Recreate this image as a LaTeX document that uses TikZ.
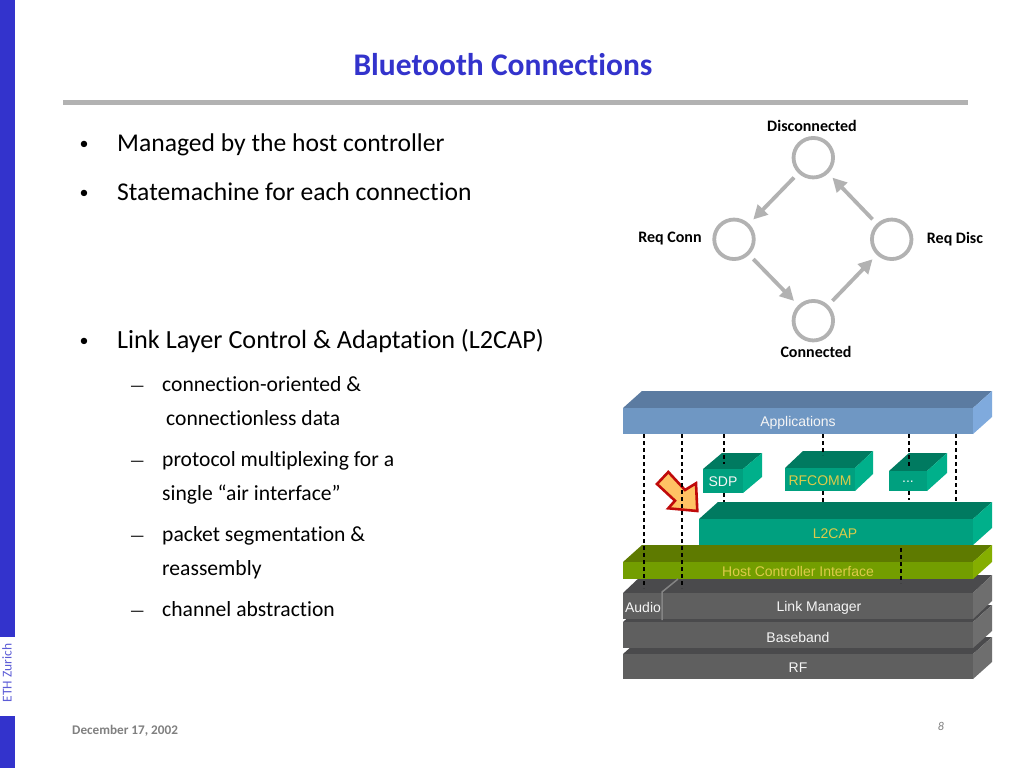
\documentclass[tikz,border=0pt]{standalone}
\usepackage{fontspec}
\setmainfont[Ligatures=NoCommon]{Carlito}
\newfontfamily\stackfont{Liberation Sans}
\usetikzlibrary{arrows.meta}
\definecolor{slide_blue}{HTML}{3333CC}
\definecolor{state_gray}{HTML}{B2B2B2}
\definecolor{blue_front}{HTML}{6F97C3}
\definecolor{blue_top}{HTML}{5B7BA1}
\definecolor{blue_side}{HTML}{7FAADD}
\definecolor{green_front}{HTML}{00A07F}
\definecolor{green_top}{HTML}{007A60}
\definecolor{green_side}{HTML}{00B08B}
\definecolor{olive_front}{HTML}{739E00}
\definecolor{olive_top}{HTML}{5E7A00}
\definecolor{olive_side}{HTML}{85AE00}
\definecolor{gray_front}{HTML}{5F5F5F}
\definecolor{gray_top}{HTML}{4A4A4C}
\definecolor{gray_side}{HTML}{6E6E6E}
\definecolor{label_yellow}{HTML}{DCCB4A}
\definecolor{pointer_fill}{HTML}{FFC264}
\definecolor{pointer_line}{HTML}{C00A0A}
% #1 x1, #2 y1, #3 x2, #4 y2, #5 dx, #6 dy, #7 front, #8 top, #9 side
\newcommand{\layerbox}[9]{
	\fill[#8] (#1,#2) -- (#1+#5,#2-#6) -- (#3+#5,#2-#6) -- (#3,#2) -- cycle;
	\fill[#9] (#3,#2) -- (#3+#5,#2-#6) -- (#3+#5,#4-#6) -- (#3,#4) -- cycle;
	\fill[#7] (#1,#2) rectangle (#3,#4);
}
\begin{document}
\begin{tikzpicture}[x=1pt,y=-1pt,
	main_node/.style={circle,draw=state_gray,line width=3.8pt,minimum size=39.5pt,inner sep=0pt},
	state_arrow/.style={draw=state_gray,line width=3.8pt,shorten <=6pt,shorten >=6pt,-{Triangle[length=14pt,width=14pt]}},
	state_label/.style={font=\fontsize{16}{18}\selectfont\bfseries},
	item_one/.style={anchor=base west,inner sep=0pt,font=\fontsize{25.6}{30}\selectfont},
	item_two/.style={anchor=base west,inner sep=0pt,font=\fontsize{21.6}{26}\selectfont},
	item_dot/.style={anchor=base,inner sep=0pt,font=\fontsize{18}{20}\selectfont},
	item_dash/.style={anchor=base west,inner sep=0pt,font=\fontsize{17}{20}\selectfont},
	stack_label/.style={inner sep=0pt,text=white!92!gray,font=\fontsize{14}{16}\stackfont},
	stack_yellow/.style={stack_label,text=label_yellow},
	dash_line/.style={black,line width=1.2pt,dash pattern=on 4pt off 3pt}]
	\useasboundingbox (0,0) rectangle (1024,768);
	\fill[white] (0,0) rectangle (1024,768);

	% slide frame
	\fill[slide_blue] (0,0) rectangle (15,637);
	\fill[slide_blue] (0,716) rectangle (15,768);
	\fill[state_gray] (63,100) rectangle (968,105);
	\node[inner sep=0pt,text=slide_blue,font=\fontsize{31.5}{36}\selectfont\bfseries] (title) at (503,65) {Bluetooth Connections};
	\node[inner sep=0pt,rotate=90,text=slide_blue!80,font=\fontsize{13.5}{15}\selectfont] (eth) at (7,673) {ETH Zurich};
	\node[anchor=west,inner sep=0pt,text=gray,font=\fontsize{13.2}{16}\selectfont\bfseries] (date) at (72,731) {December 17, 2002};
	\node[inner sep=0pt,text=gray,font=\fontsize{12}{14}\selectfont\itshape] (page) at (941,726) {8};

	% text
	\node[item_dot] (b1) at (84,149) {•};
	\node[item_one] (t1) at (117,151) {Managed by the host controller};
	\node[item_dot] (b2) at (84,198) {•};
	\node[item_one] (t2) at (117,200) {Statemachine for each connection};
	\node[item_dot] (b3) at (84,346) {•};
	\node[item_one,font=\fontsize{26.2}{30}\selectfont] (t3) at (117,348) {Link Layer Control \& Adaptation (L2CAP)};
	\node[item_dash] (d1) at (129.5,391.7) {—};
	\node[item_two] (s1) at (162,391.7) {connection-oriented \&};
	\node[item_two] (s2) at (166,425) {connectionless data};
	\node[item_dash] (d2) at (129.5,466.7) {—};
	\node[item_two] (s3) at (162,466.7) {protocol multiplexing for a};
	\node[item_two] (s4) at (162,500) {single “air interface”};
	\node[item_dash] (d3) at (129.5,541.7) {—};
	\node[item_two] (s5) at (162,541.7) {packet segmentation \&};
	\node[item_two] (s6) at (162,575) {reassembly};
	\node[item_dash] (d4) at (129.5,616.7) {—};
	\node[item_two] (s7) at (162,616.7) {channel abstraction};

	% state machine
	\node[main_node] (disc) at (813.3,157.7) {};
	\node[main_node] (reqconn) at (734,239.3) {};
	\node[main_node] (reqdisc) at (891.7,239.3) {};
	\node[main_node] (conn) at (813.3,320.7) {};
	\draw[state_arrow] (disc) -- (reqconn);
	\draw[state_arrow] (reqconn) -- (conn);
	\draw[state_arrow] (conn) -- (reqdisc);
	\draw[state_arrow] (reqdisc) -- (disc);
	\node[state_label] (l1) at (812,126) {Disconnected};
	\node[state_label] (l2) at (670,239) {Req Conn};
	\node[state_label] (l3) at (955,239) {Req Disc};
	\node[state_label] (l4) at (816,352) {Connected};

	% protocol stack
	\layerbox{623}{654}{973}{679}{19}{17}{gray_front}{gray_top}{gray_side}
	\layerbox{623}{622}{973}{648}{19}{17}{gray_front}{gray_top}{gray_side}
	\layerbox{623}{593}{973}{619}{19}{18}{gray_front}{gray_top}{gray_side}
	\layerbox{623}{562}{973}{579}{19}{17}{olive_front}{olive_top}{olive_side}
	\layerbox{699}{519}{973}{545}{19}{17}{green_front}{green_top}{green_side}
	\layerbox{623}{408}{973}{434}{19}{17}{blue_front}{blue_top}{blue_side}
	\layerbox{703}{469}{743}{493}{19}{16}{green_front}{green_top}{green_side}
	\layerbox{785}{468}{855}{491}{18}{17}{green_front}{green_top}{green_side}
	\layerbox{889}{471}{927}{491}{20}{18}{green_front}{green_top}{green_side}
	\coordinate (a1) at (662,620);
	\coordinate (a2) at (662,592);
	\coordinate (a3) at (678,579);
	\draw[gray_side!85!white,line width=1.5pt] (a1) -- (a2) -- (a3);

	% pointer
	\draw[draw=pointer_line,fill=pointer_fill,line width=2.6pt,line join=miter]
		(657,484) -- (668.3,472) -- (685,490) -- (696,483.3) -- (697.3,511) -- (668.3,508.3) -- (675,500.7) -- cycle;

	\foreach \n/\xa/\ya/\yb in {1/644/434/588,2/682/434/588,3/724/434/464,4/724/493/502,5/823/434/455,6/823/491/502,7/909/434/466,8/909/491/500,9/956/434/502,10/901/548/583}{
		\coordinate (top\n) at (\xa,\ya);
		\coordinate (bot\n) at (\xa,\yb);
		\draw[dash_line] (top\n) -- (bot\n);
	}

	\node[stack_label] (apps) at (798,422.5) {Applications};
	\node[stack_label] (sdp) at (723,482) {SDP};
	\node[stack_yellow] (rfcomm) at (820,481) {RFCOMM};
	\node[stack_label] (more) at (908,482) {...};
	\node[stack_yellow] (l2cap) at (835,534) {L2CAP};
	\node[stack_yellow] (hci) at (798,571.5) {Host Controller Interface};
	\node[stack_label] (audio) at (643,607) {Audio};
	\node[stack_label] (lm) at (819,608) {Link Manager};
	\node[stack_label] (bb) at (798,637) {Baseband};
	\node[stack_label] (rf) at (798,667.5) {RF};
\end{tikzpicture}
\end{document}
